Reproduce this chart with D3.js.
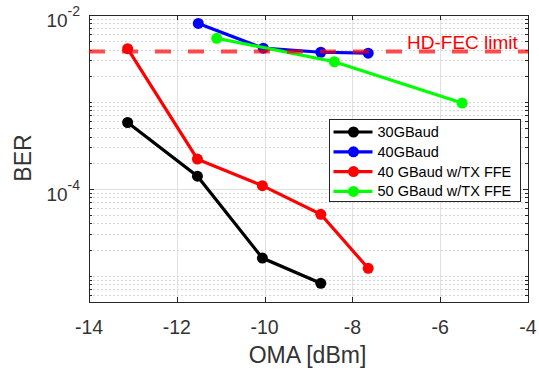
<!DOCTYPE html>
<html>
<head>
<meta charset="utf-8">
<script src="https://cdn.jsdelivr.net/npm/d3@7"></script>
<style>
  body { margin: 0; background: #fff; }
  text { font-family: "Liberation Sans", Arial, sans-serif; fill: #333333; }
</style>
</head>
<body>
<div id="chart"></div>
<script>
(function () {

  // values
  const xTicks = [-14, -12, -10, -8, -6, -4]
  const yTickExps = [-2, -4]
  const hdFec = 3.8e-3

  const oma30 = [-13.12, -11.53, -10.05, -8.72]
  const ber30 = [5.8e-4, 1.4e-4, 1.6e-5, 8.2e-6]

  const oma40 = [-11.51, -10.03, -8.72, -7.64]
  const ber40 = [8.0e-3, 4.15e-3, 3.73e-3, 3.64e-3]

  const oma40ffe = [-13.12, -11.53, -10.05, -8.72, -7.64]
  const ber40ffe = [4.1e-3, 2.2e-4, 1.09e-4, 5.1e-5, 1.22e-5]

  const oma50ffe = [-11.09, -8.41, -5.50]
  const ber50ffe = [5.4e-3, 2.9e-3, 9.7e-4]

  const seriesNames = ['30GBaud', '40GBaud', '40 GBaud w/TX FFE', '50 GBaud w/TX FFE']
  const seriesColors = ['#000000', '#0000ff', '#ff0000', '#00ff00']

  const series = [
    { name: seriesNames[0], color: seriesColors[0], x: oma30, y: ber30 },
    { name: seriesNames[1], color: seriesColors[1], x: oma40, y: ber40 },
    { name: seriesNames[2], color: seriesColors[2], x: oma40ffe, y: ber40ffe },
    { name: seriesNames[3], color: seriesColors[3], x: oma50ffe, y: ber50ffe }
  ]

  const margin = { top: 15, right: 11, bottom: 69, left: 89 }
  const width = 539 - margin.left - margin.right
  const height = 371 - margin.top - margin.bottom

  const svg = d3.select("#chart").append("svg")
      .attr("width", width + margin.left + margin.right)
      .attr("height", height + margin.top + margin.bottom)
      .append("g")
      .attr("transform", "translate(" + margin.left + "," + margin.top + ")")

  const xPositionScale = d3.scaleLinear()
    .domain([-14, -4])
    .range([0, width])

  const yPositionScale = d3.scaleLog()
    .domain([5e-6, 1e-2])
    .range([height, 0])

  // minor values on the log axis: 1..9 times each decade
  let minorVals = []
  for (let e = -6; e <= -3; e++) {
    for (let m = 1; m <= 9; m++) {
      const v = m * Math.pow(10, e)
      if (v >= 5e-6 && v < 1e-2 && !(m === 1 && (e === -4))) minorVals.push(v)
    }
  }

  // minor grid, dotted
  svg.append("g").selectAll("line")
    .data(minorVals)
    .join("line")
    .attr("x1", 0).attr("x2", width)
    .attr("y1", d => Math.round(yPositionScale(d)) + 0.5)
    .attr("y2", d => Math.round(yPositionScale(d)) + 0.5)
    .attr("stroke", "#d6d6d6")
    .attr("stroke-dasharray", "2,2")

  // major grid
  svg.append("g").selectAll("line")
    .data(xTicks.slice(1, -1))
    .join("line")
    .attr("x1", d => Math.round(xPositionScale(d)) + 0.5)
    .attr("x2", d => Math.round(xPositionScale(d)) + 0.5)
    .attr("y1", 0).attr("y2", height)
    .attr("stroke", "#e0e0e0")

  svg.append("g").selectAll("line")
    .data(yTickExps.map(e => Math.pow(10, e)))
    .join("line")
    .attr("x1", 0).attr("x2", width)
    .attr("y1", d => Math.round(yPositionScale(d)) + 0.5)
    .attr("y2", d => Math.round(yPositionScale(d)) + 0.5)
    .attr("stroke", "#e0e0e0")

  // box
  svg.append("rect")
    .attr("x", 0.5).attr("y", 0.5)
    .attr("width", width).attr("height", height)
    .attr("fill", "none")
    .attr("stroke", "#262626")

  // ticks (inward, on both sides)
  const tickG = svg.append("g").attr("stroke", "#262626")
  xTicks.forEach(t => {
    const x = Math.round(xPositionScale(t)) + 0.5
    tickG.append("line").attr("x1", x).attr("x2", x).attr("y1", height).attr("y2", height - 5)
    tickG.append("line").attr("x1", x).attr("x2", x).attr("y1", 0).attr("y2", 5)
  })
  minorVals.concat(yTickExps.map(e => Math.pow(10, e))).forEach(v => {
    const y = Math.round(yPositionScale(v)) + 0.5
    const major = yTickExps.some(e => Math.abs(Math.pow(10, e) - v) < v * 1e-6)
    const len = major ? 5 : 3
    tickG.append("line").attr("x1", 0).attr("x2", len).attr("y1", y).attr("y2", y)
    tickG.append("line").attr("x1", width).attr("x2", width - len).attr("y1", y).attr("y2", y)
  })

  // tick labels
  svg.append("g").selectAll("text")
    .data(xTicks)
    .join("text")
    .attr("x", d => xPositionScale(d))
    .attr("y", height + 32)
    .attr("text-anchor", "middle")
    .attr("font-size", 19.5)
    .text(d => d < 0 ? "-" + Math.abs(d) : d)

  const yLab = svg.append("g").selectAll("text")
    .data(yTickExps)
    .join("text")
    .attr("x", -9)
    .attr("y", d => yPositionScale(Math.pow(10, d)) + 12)
    .attr("text-anchor", "end")
    .attr("font-size", 19)
  yLab.append("tspan").text("10")
  yLab.append("tspan")
    .attr("dy", -11)
    .attr("font-size", 14)
    .text(d => d < 0 ? "-" + Math.abs(d) : d)

  // axis titles
  svg.append("text")
    .attr("x", width / 2 - 1)
    .attr("y", height + 61)
    .attr("text-anchor", "middle")
    .attr("font-size", 23)
    .text("OMA [dBm]")

  svg.append("text")
    .attr("transform", "translate(" + (31 - margin.left) + "," + (158 - margin.top) + ") rotate(-90)")
    .attr("text-anchor", "middle")
    .attr("font-size", 23)
    .text("BER")

  // series
  const line = d3.line()
    .x(d => xPositionScale(d[0]))
    .y(d => yPositionScale(d[1]))

  series.forEach(s => {
    const pts = s.x.map((v, i) => [v, s.y[i]])
    svg.append("path")
      .datum(pts)
      .attr("d", line)
      .attr("fill", "none")
      .attr("stroke", s.color)
      .attr("stroke-width", 3.2)
    svg.append("g").selectAll("circle")
      .data(pts)
      .join("circle")
      .attr("cx", d => xPositionScale(d[0]))
      .attr("cy", d => yPositionScale(d[1]))
      .attr("r", 5.5)
      .attr("fill", s.color)
  })

  // HD-FEC limit
  svg.append("line")
    .attr("x1", 0).attr("x2", width)
    .attr("y1", yPositionScale(hdFec))
    .attr("y2", yPositionScale(hdFec))
    .attr("stroke", "#ff0000")
    .attr("stroke-opacity", 0.7)
    .attr("stroke-width", 4)
    .attr("stroke-dasharray", "16,17")

  svg.append("text")
    .attr("x", 318)
    .attr("y", 34)
    .style("fill", "#ff0000")
    .attr("font-size", 19)
    .text("HD-FEC limit")

  // legend
  const legend = svg.append("g")
    .attr("transform", "translate(" + (329.5 - margin.left) + "," + (119.5 - margin.top) + ")")
  legend.append("rect")
    .attr("width", 191)
    .attr("height", 82)
    .attr("fill", "#fff")
    .attr("stroke", "#262626")

  series.forEach((s, i) => {
    const y = 12.5 + i * 19.8
    legend.append("line")
      .attr("x1", 4).attr("x2", 43)
      .attr("y1", y).attr("y2", y)
      .attr("stroke", s.color)
      .attr("stroke-width", 3.2)
    legend.append("circle")
      .attr("cx", 24).attr("cy", y)
      .attr("r", 5.5)
      .attr("fill", s.color)
    legend.append("text")
      .attr("x", 48)
      .attr("y", y + 5)
      .attr("font-size", 14.5)
      .style("fill", "#000")
      .text(s.name)
  })

})();
</script>
</body>
</html>
